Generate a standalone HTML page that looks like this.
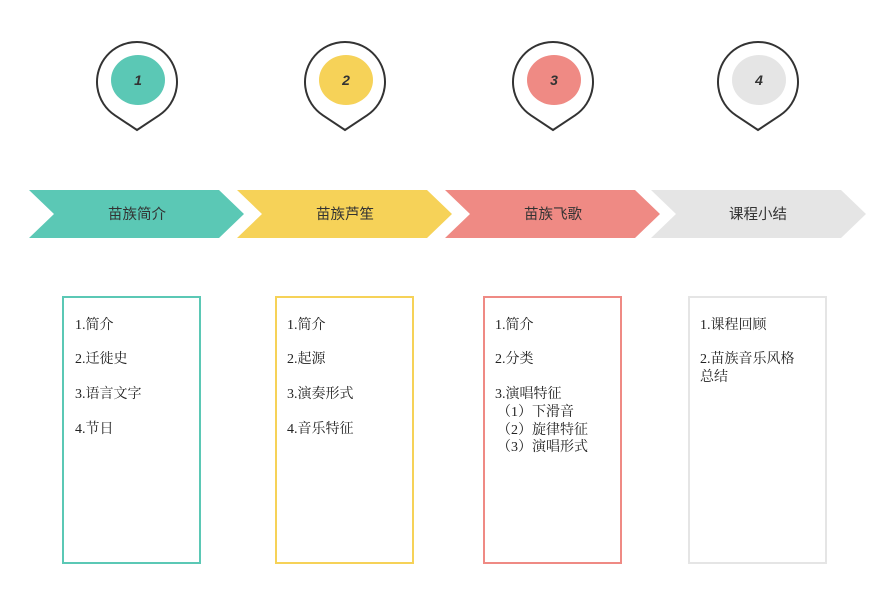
<!DOCTYPE html>
<html><head><meta charset="utf-8"><style>
body{margin:0;background:#fff;}
svg{display:block}
.t{font-family:"Liberation Serif","Noto Serif CJK SC",serif;font-size:14px;fill:#222}
.h{font-family:"Liberation Sans","Noto Sans CJK SC",sans-serif;font-size:14.5px;fill:#333}
.n{font-family:"Liberation Sans",sans-serif;font-size:14px;font-style:italic;font-weight:bold;fill:#333}
</style></head><body>
<svg width="891" height="589" viewBox="0 0 891 589">
<g fill="none" stroke="#333" stroke-width="2">
<path d="M137,130 L114.9,115.3 A40 40 0 1 1 159.1,115.3 Z"/>
<path d="M345,130 L322.9,115.3 A40 40 0 1 1 367.1,115.3 Z"/>
<path d="M553,130 L530.9,115.3 A40 40 0 1 1 575.1,115.3 Z"/>
<path d="M758,130 L735.9,115.3 A40 40 0 1 1 780.1,115.3 Z"/>
</g>
<ellipse cx="138" cy="80" rx="27" ry="25" fill="#5bc8b5"/>
<ellipse cx="346" cy="80" rx="27" ry="25" fill="#f6d258"/>
<ellipse cx="554" cy="80" rx="27" ry="25" fill="#ef8a84"/>
<ellipse cx="759" cy="80" rx="27" ry="25" fill="#e5e5e5"/>
<text class="n" x="138" y="85" text-anchor="middle">1</text>
<text class="n" x="346" y="85" text-anchor="middle">2</text>
<text class="n" x="554" y="85" text-anchor="middle">3</text>
<text class="n" x="759" y="85" text-anchor="middle">4</text>
<polygon points="29,190 219,190 244,214 219,238 29,238 54,214" fill="#5bc8b5"/>
<polygon points="237,190 427,190 452,214 427,238 237,238 262,214" fill="#f6d258"/>
<polygon points="445,190 635,190 660,214 635,238 445,238 470,214" fill="#ef8a84"/>
<polygon points="651,190 841,190 866,214 841,238 651,238 676,214" fill="#e5e5e5"/>
<text class="h" x="137" y="219" text-anchor="middle">苗族简介</text>
<text class="h" x="345" y="219" text-anchor="middle">苗族芦笙</text>
<text class="h" x="553" y="219" text-anchor="middle">苗族飞歌</text>
<text class="h" x="758" y="219" text-anchor="middle">课程小结</text>
<rect x="63" y="297" width="137" height="266" fill="none" stroke="#5bc8b5" stroke-width="2"/>
<rect x="276" y="297" width="137" height="266" fill="none" stroke="#f6d258" stroke-width="2"/>
<rect x="484" y="297" width="137" height="266" fill="none" stroke="#ef8a84" stroke-width="2"/>
<rect x="689" y="297" width="137" height="266" fill="none" stroke="#e5e5e5" stroke-width="2"/>
<g class="t">
<text x="75" y="329">1.简介</text>
<text x="75" y="363">2.迁徙史</text>
<text x="75" y="398">3.语言文字</text>
<text x="75" y="433">4.节日</text>
<text x="287" y="329">1.简介</text>
<text x="287" y="363">2.起源</text>
<text x="287" y="398">3.演奏形式</text>
<text x="287" y="433">4.音乐特征</text>
<text x="495" y="329">1.简介</text>
<text x="495" y="363">2.分类</text>
<text x="495" y="398">3.演唱特征</text>
<text x="497" y="416">（1）下滑音</text>
<text x="497" y="434">（2）旋律特征</text>
<text x="497" y="451">（3）演唱形式</text>
<text x="700" y="329">1.课程回顾</text>
<text x="700" y="363">2.苗族音乐风格</text>
<text x="700" y="381">总结</text>
</g>
</svg>
</body></html>
